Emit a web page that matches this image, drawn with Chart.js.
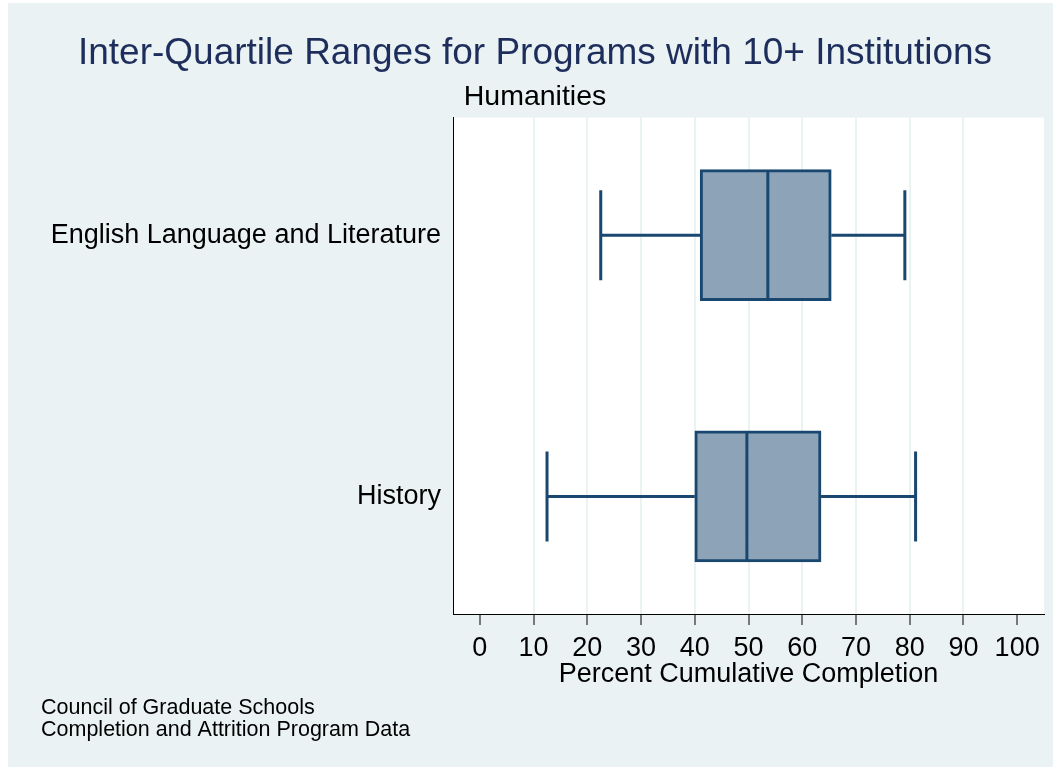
<!DOCTYPE html>
<html>
<head>
<meta charset="utf-8">
<title>Inter-Quartile Ranges for Programs with 10+ Institutions</title>
<script src="https://cdn.jsdelivr.net/npm/chart.js@4.4.1/dist/chart.umd.min.js"></script>
<style>
  body { margin: 0; background: #fff; }
  canvas { display: block; }
</style>
</head>
<body>
<canvas id="boxChart" width="1053" height="767"></canvas>
<script>
// data
var categories = ['English Language and Literature', 'History'];
var lowWhisker = [22.5, 12.5];
var q1 = [41.0, 40.0];
var median = [53.6, 49.7];
var q3 = [65.4, 63.5];
var highWhisker = [79.1, 81.1];
var xTicks = [0, 10, 20, 30, 40, 50, 60, 70, 80, 90, 100];
var footnote = ['Council of Graduate Schools', 'Completion and Attrition Program Data'];

var navy = '#1a476f';
var boxFill = '#8ca3b8';
var bgColor = '#eaf2f3';

Chart.defaults.font.family = '"Liberation Sans", Arial, Helvetica, sans-serif';
Chart.defaults.color = '#000';

// graph region colour + white plot region
var backgroundPlugin = {
    id: 'background',
    beforeDraw: function (chart) {
        var ctx = chart.ctx, a = chart.chartArea;
        ctx.save();
        ctx.fillStyle = bgColor;
        ctx.fillRect(8, 3, chart.width - 8, chart.height - 3);
        ctx.fillStyle = '#fff';
        ctx.fillRect(a.left, a.top, a.right - a.left, a.bottom - a.top);
        ctx.restore();
    }
};

// whiskers, caps and median lines
var whiskerPlugin = {
    id: 'whiskers',
    afterDatasetsDraw: function (chart) {
        var ctx = chart.ctx;
        var xs = chart.scales.x, ys = chart.scales.y;
        ctx.save();
        ctx.strokeStyle = navy;
        ctx.lineWidth = 3;
        for (var i = 0; i < categories.length; i++) {
            var y = ys.getPixelForValue(i);
            var lo = xs.getPixelForValue(lowWhisker[i]);
            var hi = xs.getPixelForValue(highWhisker[i]);
            var m = xs.getPixelForValue(median[i]);
            ctx.beginPath();
            ctx.moveTo(lo, y); ctx.lineTo(xs.getPixelForValue(q1[i]), y);
            ctx.moveTo(xs.getPixelForValue(q3[i]), y); ctx.lineTo(hi, y);
            ctx.moveTo(lo, y - 45); ctx.lineTo(lo, y + 45);
            ctx.moveTo(hi, y - 45); ctx.lineTo(hi, y + 45);
            ctx.moveTo(m, y - 64); ctx.lineTo(m, y + 64);
            ctx.stroke();
        }
        ctx.restore();
    }
};

// source note bottom left
var footnotePlugin = {
    id: 'footnote',
    afterDraw: function (chart) {
        var ctx = chart.ctx;
        ctx.save();
        ctx.fillStyle = '#000';
        ctx.font = '21.5px "Liberation Sans", Arial, sans-serif';
        ctx.textAlign = 'left';
        ctx.textBaseline = 'middle';
        for (var i = 0; i < footnote.length; i++) {
            ctx.fillText(footnote[i], 41, 708 + i * 22);
        }
        ctx.restore();
    }
};

var boxes = categories.map(function (c, i) {
    return { x: [q1[i], q3[i]], y: i };
});

new Chart(document.getElementById('boxChart').getContext('2d'), {
    type: 'bar',
    data: {
        datasets: [{
            label: 'IQR',
            data: boxes,
            backgroundColor: boxFill,
            borderColor: navy,
            borderWidth: 3,
            borderSkipped: false,
            barThickness: 131
        }]
    },
    options: {
        indexAxis: 'y',
        responsive: false,
        animation: false,
        devicePixelRatio: 1,
        layout: { padding: { left: 26, right: 9, top: 0, bottom: 76 } },
        plugins: {
            legend: { display: false },
            tooltip: { enabled: false },
            title: {
                display: true,
                text: 'Inter-Quartile Ranges for Programs with 10+ Institutions',
                color: '#1e2e5c',
                font: { size: 37, weight: 'normal' },
                padding: { top: 32, bottom: 0 }
            },
            subtitle: {
                display: true,
                text: 'Humanities',
                color: '#000',
                font: { size: 28.5, weight: 'normal' },
                padding: { top: 4, bottom: 3 }
            }
        },
        scales: {
            x: {
                type: 'linear',
                min: -5,
                max: 105,
                afterBuildTicks: function (axis) {
                    axis.ticks = xTicks.map(function (v) { return { value: v }; });
                },
                afterFit: function (axis) { axis.height = 77; },
                grid: {
                    color: function (ctx) {
                        if (ctx.tick && (ctx.tick.value === 0 || ctx.tick.value === 100)) return 'rgba(0,0,0,0)';
                        return bgColor;
                    },
                    lineWidth: 2,
                    tickColor: '#000',
                    tickWidth: 1,
                    tickLength: 11
                },
                border: { display: true, color: '#000', width: 1 },
                ticks: { font: { size: 27 }, padding: 7, maxRotation: 0, autoSkip: false },
                title: {
                    display: true,
                    text: 'Percent Cumulative Completion',
                    font: { size: 27 },
                    padding: { top: 0, bottom: 0 }
                }
            },
            y: {
                type: 'linear',
                reverse: true,
                offset: false,
                min: -0.45,
                max: 1.45,
                afterBuildTicks: function (axis) {
                    axis.ticks = categories.map(function (c, i) { return { value: i }; });
                },
                afterFit: function (axis) { axis.width = 427; },
                grid: { color: 'rgba(0,0,0,0)', drawTicks: false, offset: false },
                border: { display: true, color: '#000', width: 1 },
                ticks: {
                    font: { size: 27 },
                    padding: 12,
                    callback: function (v) { return categories[v]; }
                }
            }
        }
    },
    plugins: [backgroundPlugin, whiskerPlugin, footnotePlugin]
});
</script>
</body>
</html>
